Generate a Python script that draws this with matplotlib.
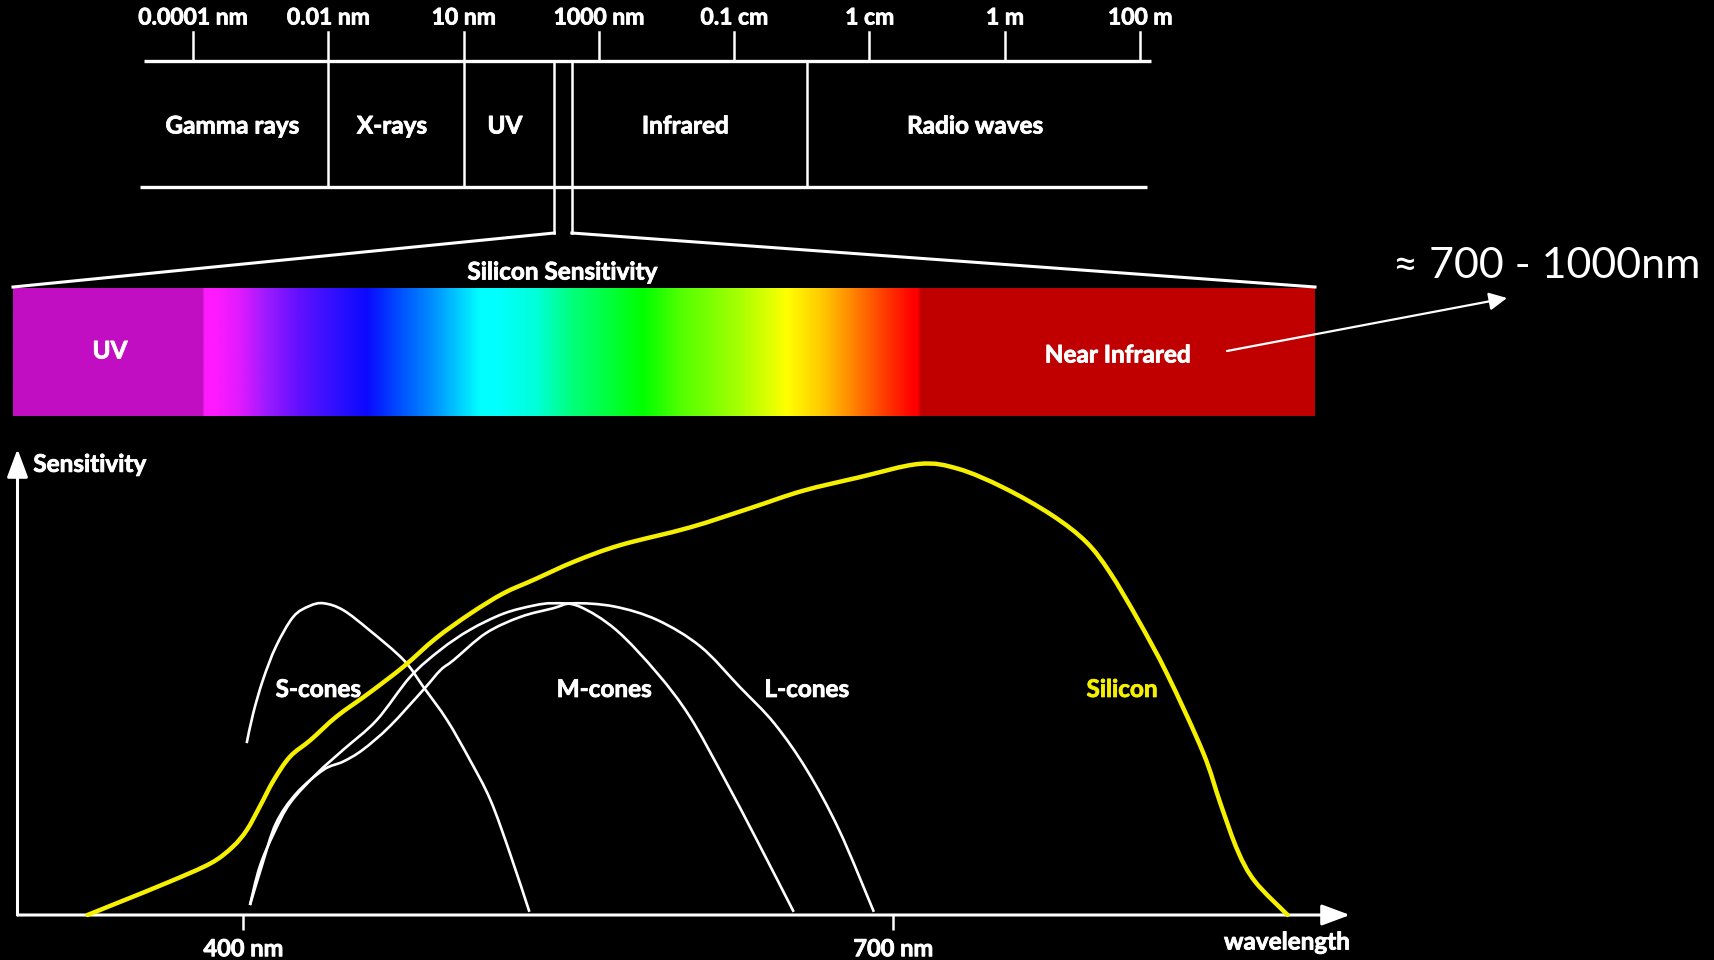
import numpy as np
import matplotlib
matplotlib.use("Agg")
import matplotlib.pyplot as plt
from matplotlib.colors import LinearSegmentedColormap
from matplotlib.path import Path
from matplotlib.patches import PathPatch
import matplotlib.patheffects as pe

plt.rcParams['font.family'] = ['Lato', 'DejaVu Sans']

# ---------------- data ----------------
# electromagnetic scale (evenly spaced reference marks)
scale_labels = ['0.0001 nm', '0.01 nm', '10 nm', '1000 nm', '0.1 cm', '1 cm', '1 m', '100 m']
# band boundaries in scale-mark units; the narrow slot is visible light
band_edges = [-0.36, 1.0, 2.0, 2.67, 2.80, 4.54, 7.08]
band_names = ['Gamma rays', 'X-rays', 'UV', '', 'Infrared', 'Radio waves']

# sensitivity curves: wavelength (nm) vs relative sensitivity
silicon_nm = [328, 343, 366, 385, 395, 401.5, 407.5, 414, 421.5, 431, 443, 458, 474, 489,
              505, 520, 534, 553, 574, 606, 634, 658, 684, 712, 730, 751, 773, 789, 800,
              813, 826.5, 843, 851, 859, 867, 882]
silicon_sens = [0.0, 0.029, 0.074, 0.115, 0.151, 0.188, 0.240, 0.299, 0.351, 0.388, 0.440,
                0.492, 0.551, 0.614, 0.669, 0.713, 0.743, 0.784, 0.820, 0.859, 0.902, 0.940,
                0.970, 1.0, 0.989, 0.947, 0.887, 0.827, 0.759, 0.654, 0.533, 0.360, 0.247,
                0.142, 0.074, 0.0]

s_cone_nm = [401.5, 404.5, 409, 415, 423, 430.5, 437, 446, 458, 474, 483, 494, 504.5, 514,
             523, 532]
s_cone_sens = [0.381, 0.447, 0.521, 0.595, 0.661, 0.685, 0.691, 0.676, 0.632, 0.565, 0.506,
               0.432, 0.344, 0.255, 0.137, 0.007]

m_cone_nm = [403, 407.5, 414, 421.5, 434, 446, 461.5, 477, 491, 504.5, 520, 534, 543,
             555, 572, 591, 606, 621.5, 637, 654]
m_cone_sens = [0.022, 0.107, 0.181, 0.248, 0.314, 0.366, 0.432, 0.528, 0.588, 0.632,
               0.668, 0.686, 0.691, 0.684, 0.632, 0.536, 0.440, 0.307, 0.166, 0.007]

l_cone_nm = [403, 408.5, 415, 424.5, 437, 446, 455, 467.5, 483, 491, 497, 512, 528, 543,
             552, 571, 591, 611, 629, 645, 660, 675, 691]
l_cone_sens = [0.022, 0.109, 0.203, 0.270, 0.322, 0.340, 0.366, 0.418, 0.499, 0.543, 0.565,
               0.625, 0.661, 0.680, 0.691, 0.684, 0.654, 0.595, 0.506, 0.425, 0.322, 0.188,
               0.007]

axis_ticks_nm = [400, 700]
axis_tick_labels = ['400 nm', '700 nm']

# ---------------- styles ----------------
W, H = 1714, 960
WHITE = 'white'
YELLOW = '#f5f000'
FX = [pe.withStroke(linewidth=0.6, foreground=WHITE)]
BOLD = dict(fontweight='bold', color=WHITE, path_effects=FX)

# colour stops of the visible band strip (position in px along strip, colour)
strip_stops = [(13, '#c20ec2'), (202, '#c20ec2'), (204, '#ff1aff'), (215, '#ff1aff'),
               (240, '#e01aff'), (267, '#9a1aff'), (300, '#6010ff'), (327, '#3a10ff'),
               (367, '#0a0aff'), (400, '#0050ff'), (433, '#0090ff'), (480, '#00ffff'),
               (497, '#00ffff'), (537, '#00ffd8'), (570, '#00ff80'), (643, '#00ff00'),
               (680, '#50ff00'), (740, '#a8ff00'), (787, '#ffff00'), (823, '#ffc800'),
               (850, '#ff8c00'), (880, '#ff4600'), (913, '#ff0000'), (918, '#ff0000'),
               (921, '#c00000'), (1315, '#c00000')]


def smooth_path(xs, ys):
    """Cubic Bezier path through every given point (Catmull-Rom tangents)."""
    p = np.column_stack([xs, ys]).astype(float)
    ext = np.vstack([p[0], p, p[-1]])
    verts = [p[0]]
    codes = [Path.MOVETO]
    for k in range(len(p) - 1):
        p0, p1, p2, p3 = ext[k], ext[k + 1], ext[k + 2], ext[k + 3]
        verts += [p1 + (p2 - p0) / 6.0, p2 - (p3 - p1) / 6.0, p2]
        codes += [Path.CURVE4] * 3
    return Path(np.array(verts), codes)


fig = plt.figure(figsize=(W / 100, H / 100), dpi=100, facecolor='black')

# ---------------- overlay (pixel space) for the spectrum diagram ----------------
bg = fig.add_axes([0, 0, 1, 1])
bg.set_facecolor('black')


def sx(i):
    # position of a scale-mark unit on the electromagnetic bar
    return 193 + 135.3 * i


TOP_Y, BOT_Y, SLOT_Y = 61, 187, 233
bg.plot([sx(band_edges[0]), sx(band_edges[-1])], [TOP_Y, TOP_Y], color=WHITE, lw=2.4,
        solid_capstyle='butt')
bg.plot([sx(band_edges[0] - 0.03), sx(band_edges[-1] - 0.03)], [BOT_Y, BOT_Y], color=WHITE,
        lw=2.4, solid_capstyle='butt')
for i, lab in enumerate(scale_labels):
    bg.plot([sx(i), sx(i)], [32, TOP_Y], color=WHITE, lw=1.8)
    bg.text(sx(i), 18, lab, ha='center', va='center', fontsize=16.5, **BOLD)

# interior band dividers; the two walls of the visible slot run down to the fan
for k, e in enumerate(band_edges[1:-1], start=1):
    bottom = SLOT_Y if k in (3, 4) else BOT_Y
    bg.plot([sx(e), sx(e)], [TOP_Y, bottom], color=WHITE, lw=1.8)

for name, a, b in zip(band_names, band_edges[:-1], band_edges[1:]):
    if name:
        bg.text(sx((a + b) / 2) - 4, 126, name, ha='center', va='center', fontsize=17.5,
                **BOLD)

# fan from the visible slot to the strip
STRIP_L, STRIP_R, STRIP_T, STRIP_B = 13, 1315, 289, 416.5
bg.plot([sx(band_edges[3]), STRIP_L], [SLOT_Y, STRIP_T - 2], color=WHITE, lw=2.2)
bg.plot([sx(band_edges[4]), STRIP_R], [SLOT_Y, STRIP_T - 2], color=WHITE, lw=2.2)
bg.text(562, 272, 'Silicon Sensitivity', ha='center', va='center', fontsize=17.5, **BOLD)

# colour strip
pos = [(p - STRIP_L) / (STRIP_R - STRIP_L) for p, _ in strip_stops]
cmap = LinearSegmentedColormap.from_list('strip', list(zip(pos, [c for _, c in strip_stops])),
                                         N=2048)
grad = np.linspace(0, 1, 1400)[None, :]
bg.imshow(grad, cmap=cmap, aspect='auto', extent=[STRIP_L, STRIP_R, STRIP_B, STRIP_T],
          interpolation='bilinear', zorder=1)
bg.set_xlim(0, W)
bg.set_ylim(H, 0)
bg.axis('off')
bg.text(110, 351, 'UV', ha='center', va='center', fontsize=17.5, zorder=3, **BOLD)
bg.text(1118, 355, 'Near Infrared', ha='center', va='center', fontsize=17.5, zorder=3,
        **BOLD)
bg.annotate('', xy=(1507, 298), xytext=(1227, 351),
            arrowprops=dict(arrowstyle='-|>,head_length=0.72,head_width=0.36',
                            mutation_scale=15, color=WHITE, lw=1.6, shrinkA=0, shrinkB=0))
bg.text(1547, 266, '\u2248 700 - 1000nm', ha='center', va='center', fontsize=31,
        color=WHITE)

# ---------------- sensitivity chart (data space) ----------------
ax = fig.add_axes([17.5 / W, (H - 915) / H, (1350 - 17.5) / W, (915 - 449) / H])
ax.set_facecolor('none')
ax.set_xlim(295.7, 910.8)
ax.set_ylim(0, 1.033)
for sp in ax.spines.values():
    sp.set_visible(False)
ax.set_yticks([])
ax.set_xticks(axis_ticks_nm)
ax.set_xticklabels(axis_tick_labels, fontsize=17, fontweight='bold', color=WHITE)
for t in ax.get_xticklabels():
    t.set_path_effects(FX)
ax.tick_params(axis='x', length=11, width=1.8, color=WHITE, pad=5, direction='out')

arrow = dict(arrowstyle='-|>,head_length=0.86,head_width=0.32', mutation_scale=20,
             color=WHITE, lw=2.2, shrinkA=0, shrinkB=0)
ax.annotate('', xy=(1, 0), xytext=(0, 0), xycoords='axes fraction',
            textcoords='axes fraction', arrowprops=arrow, annotation_clip=False)
ax.annotate('', xy=(0, 1), xytext=(0, 0), xycoords='axes fraction',
            textcoords='axes fraction', arrowprops=arrow, annotation_clip=False)

for xs, ys in [(s_cone_nm, s_cone_sens), (m_cone_nm, m_cone_sens), (l_cone_nm, l_cone_sens)]:
    ax.add_patch(PathPatch(smooth_path(xs, ys), facecolor='none', edgecolor=WHITE, lw=1.9,
                           joinstyle='round', clip_on=False))
ax.add_patch(PathPatch(smooth_path(silicon_nm, silicon_sens), facecolor='none',
                       edgecolor=YELLOW, lw=3.2, joinstyle='round', capstyle='round',
                       clip_on=False, zorder=3))

ax.text(434.5, 0.50, 'S-cones', ha='center', va='center', fontsize=17.5, **BOLD)
ax.text(566.5, 0.50, 'M-cones', ha='center', va='center', fontsize=17.5, **BOLD)
ax.text(660, 0.50, 'L-cones', ha='center', va='center', fontsize=17.5, **BOLD)
ax.text(805.5, 0.50, 'Silicon', ha='center', va='center', fontsize=17.5, fontweight='bold',
        color=YELLOW, path_effects=[pe.withStroke(linewidth=0.6, foreground=YELLOW)])
ax.text(303, 0.999, 'Sensitivity', ha='left', va='center', fontsize=17.5, **BOLD)
ax.text(1287, 942, 'wavelength', transform=bg.transData, ha='center', va='center',
        fontsize=17.5, **BOLD)

fig.savefig('out.png', dpi=100, facecolor='black')
